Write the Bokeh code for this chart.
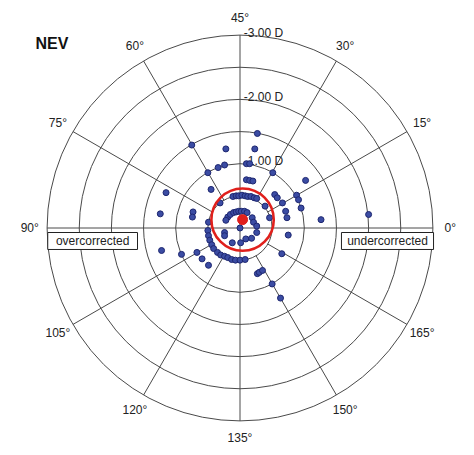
import numpy as np
from bokeh.plotting import figure
from bokeh.models import ColumnDataSource
from bokeh.core.properties import value
from bokeh.embed import file_html
from bokeh.resources import INLINE

# ---- data (double-angle plot, diopters) ----
ring_D = [0.5, 1.0, 1.5, 2.0, 2.5, 3.0]
ring_labels = {1.0: "-1.00 D", 2.0: "-2.00 D", 3.0: "-3.00 D"}
axis_ticks_deg = [0, 15, 30, 45, 60, 75, 90, 105, 120, 135, 150, 165]

vec_x = [0.27, -0.75, -0.22, 0.23, 0.10, 0.15, -0.50, -0.34, -0.24, 0.51,
         0.10, 0.15, 0.20, 1.02, -0.45, -1.15, 0.54, 0.58, 0.88, 0.91,
         0.66, 0.95, 0.71, 0.73, 0.46, 0.39, 1.26, 2.00, -1.24, -0.73,
         -0.74, -0.31, -0.49, -0.11, -0.06, -0.02, 0.03, 0.08, 0.12, 0.17,
         0.22, 0.26, -0.19, -0.15, -0.10, -0.06, -0.02, 0.02, 0.07, 0.11,
         0.19, 0.21, -0.22, 0.00, 0.26, 0.26, 0.18, 0.09, 0.01, -0.12,
         -0.24, -0.24, -0.50, -0.49, -0.47, -0.44, -0.41, -0.35, -0.30, -0.24,
         -0.19, -0.13, -0.07, 0.00, 0.08, -1.22, -0.91, -0.67, -0.59, -0.49,
         0.75, 0.65, 0.27, 0.30, 0.35, 0.50, 0.63]
vec_y = [1.47, 1.29, 1.23, 1.23, 1.00, 1.00, 0.86, 0.94, 0.98, 0.86,
         0.75, 0.74, 0.73, 0.74, 0.60, 0.55, 0.52, 0.47, 0.51, 0.44,
         0.39, 0.31, 0.26, 0.16, 0.16, 0.34, 0.13, 0.21, 0.22, 0.25,
         0.17, 0.39, 0.09, 0.49, 0.50, 0.50, 0.51, 0.50, 0.49, 0.49,
         0.47, 0.46, 0.17, 0.21, 0.24, 0.25, 0.26, 0.26, 0.26, 0.24,
         0.16, 0.09, 0.12, 0.00, 0.03, -0.07, -0.16, -0.17, -0.23, -0.23,
         -0.07, -0.12, -0.04, -0.12, -0.19, -0.26, -0.32, -0.38, -0.42, -0.44,
         -0.46, -0.49, -0.50, -0.50, -0.49, -0.35, -0.41, -0.38, -0.48, -0.58,
         -0.11, -0.40, -0.71, -0.69, -0.66, -0.87, -1.09]

mean_x, mean_y = 0.04, 0.13
mean_ring_D = 0.485

# ---- figure ----
W, H = 466, 447
PX = 64.3            # pixels per diopter
CX, CY = 239.5, 227.5  # centre in pixels
p = figure(width=W, height=H, output_backend="svg", toolbar_location=None,
           x_range=(-CX / PX, (W - CX) / PX), y_range=(-(H - CY) / PX, CY / PX),
           x_axis_location=None, y_axis_location=None, min_border=0)
p.xgrid.grid_line_color = None
p.ygrid.grid_line_color = None
p.outline_line_color = None
p.background_fill_color = "white"
p.border_fill_color = "white"

grid_col = "#4a4a4a"
font = value("Liberation Sans")

# rings
p.circle(x=[0] * len(ring_D), y=[0] * len(ring_D), radius=ring_D,
         fill_color=None, line_color=grid_col, line_width=1)

# spokes
rmin, rmax = ring_D[0], ring_D[-1]
x0, y0, x1, y1 = [], [], [], []
for a in axis_ticks_deg:
    t = np.deg2rad(2 * a)
    start = 0.0 if a % 45 == 0 else rmin
    x0.append(start * np.cos(t)); y0.append(start * np.sin(t))
    x1.append(rmax * np.cos(t)); y1.append(rmax * np.sin(t))
p.segment(x0=x0, y0=y0, x1=x1, y1=y1, line_color=grid_col, line_width=1)

# angle labels
rl = 3.27
tx = [rl * np.cos(np.deg2rad(2 * a)) for a in axis_ticks_deg]
ty = [rl * np.sin(np.deg2rad(2 * a)) for a in axis_ticks_deg]
p.text(x=tx, y=ty, text=[f"{a}\u00b0" for a in axis_ticks_deg],
       text_font=font, text_font_size="12px", text_color="#222222",
       text_align="center", text_baseline="middle")

# diopter labels
lr = list(ring_labels.keys())
p.text(x=[0.06] * len(lr), y=[r + 0.04 for r in lr],
       text=[ring_labels[r] for r in lr], text_font=font,
       text_font_size="12px", text_color="#222222",
       text_align="left", text_baseline="alphabetic")

# boxes
box_src = ColumnDataSource(dict(left=[-2.99, 1.578], right=[-1.594, 3.01],
                                top=[-0.07, -0.07], bottom=[-0.334, -0.334],
                                label=["overcorrected", "undercorrected"],
                                cx=[(-2.99 - 1.594) / 2, (1.578 + 3.01) / 2],
                                cy=[-0.202, -0.202]))
p.quad(left="left", right="right", top="top", bottom="bottom", source=box_src,
       fill_color="white", line_color="#222222", line_width=1)
p.text(x="cx", y="cy", text="label", source=box_src, text_font=font,
       text_font_size="12px", text_color="#222222",
       text_align="center", text_baseline="middle")

# title
p.text(x=[-3.18], y=[2.87], text=["NEV"], text_font=font,
       text_font_size="16px", text_font_style="bold", text_color="#111111",
       text_align="left", text_baseline="alphabetic")

# points
p.scatter(x=vec_x, y=vec_y, size=6, fill_color="#3b4ca3",
          line_color="#1d2670", line_width=1)

# mean and its ring
p.circle(x=[mean_x], y=[mean_y], radius=[mean_ring_D], fill_color=None,
         line_color="#e0201c", line_width=2.6)
p.scatter(x=[mean_x], y=[mean_y], size=10, fill_color="#e0201c",
          line_color="#e0201c")

open("out.html", "w").write(file_html(p, INLINE))
